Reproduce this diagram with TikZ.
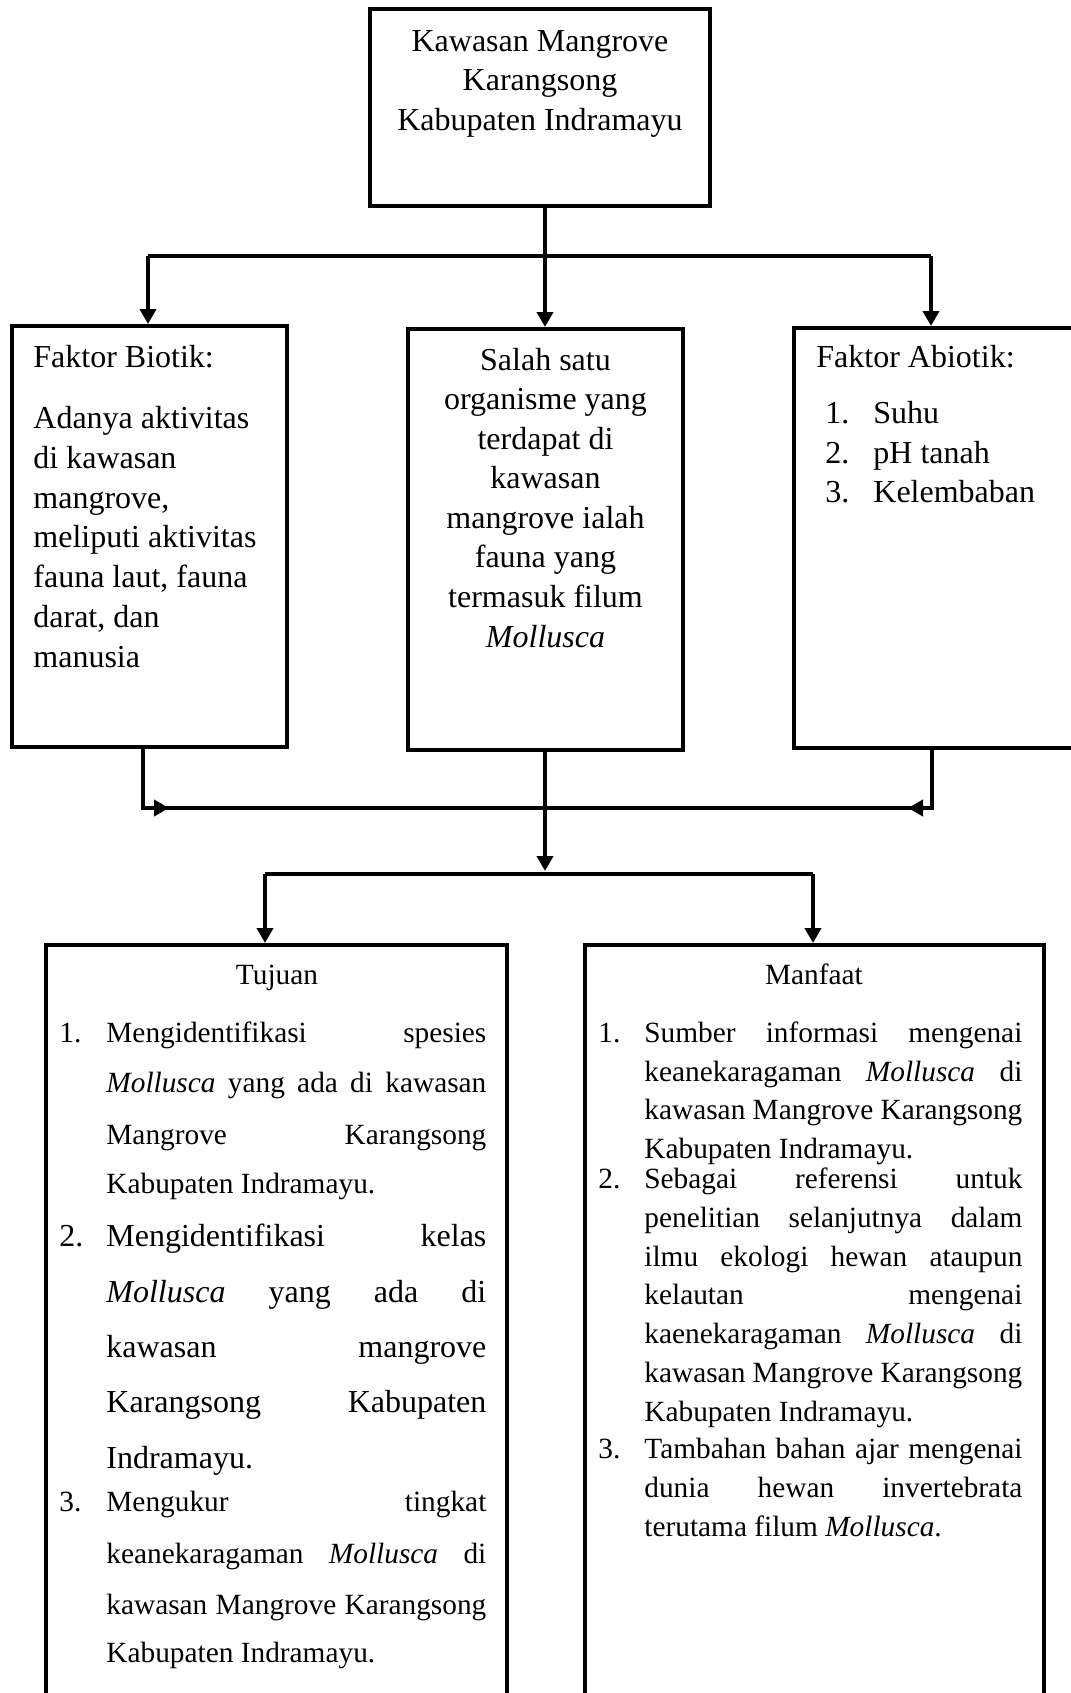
\documentclass[tikz,border=0pt]{standalone}
\usepackage{fontspec}
\setmainfont{Liberation Serif}
\usetikzlibrary{arrows.meta}
\newlength\jwl \setlength\jwl{190pt}
\newlength\jwr \setlength\jwr{189pt}
\newcommand\jl[1]{\makebox[\jwl][s]{#1}}
\newcommand\jr[1]{\makebox[\jwr][s]{#1}}
\newcommand\fbig{\fontsize{16}{19}\selectfont}
\newcommand\fsm{\fontsize{14.67}{17}\selectfont}
\begin{document}
\begin{tikzpicture}[x=0.5pt,y=-0.5pt,
  box/.style={draw, line width=2pt, inner sep=0},
  conn/.style={line width=2pt},
  arr/.style={line width=2pt, -{Triangle[length=7.5pt,width=8pt]}},
  tl/.style={inner sep=0, anchor=base west, font=\fbig},
  tc/.style={inner sep=0, anchor=base, font=\fbig},
  sl/.style={inner sep=0, anchor=base west, font=\fsm},
  sc/.style={inner sep=0, anchor=base, font=\fsm}]
\useasboundingbox (0,0) rectangle (1071,1693);
\clip (0,0) rectangle (1071,1693);
% boxes
\node[box, minimum width=170pt, minimum height=98.5pt] (top) at (540,107.5) {};
\node[box, minimum width=137.5pt, minimum height=210.5pt] (lb) at (149.5,536.5) {};
\node[box, minimum width=137.5pt, minimum height=210.5pt] (mid) at (545.5,539.5) {};
\node[box, minimum width=139.5pt, minimum height=210pt] (rb) at (933.5,538) {};
\node[box, minimum width=230.5pt, minimum height=387.5pt] (bl) at (276.5,1332.5) {};
\node[box, minimum width=229.5pt, minimum height=387.5pt] (br) at (814.5,1332.5) {};
% top text
\node[tc] (t1) at (540,51) {Kawasan Mangrove};
\node[tc] (t2) at (540,90) {Karangsong};
\node[tc] (t3) at (540,130) {Kabupaten Indramayu};
% left box text
\node[tl] (l0) at (33,367) {Faktor Biotik:};
\node[tl] (l1) at (33,428) {Adanya aktivitas};
\node[tl] (l2) at (33,468) {di kawasan};
\node[tl] (l3) at (33,508) {mangrove,};
\node[tl] (l4) at (33,547) {meliputi aktivitas};
\node[tl] (l5) at (33,587) {fauna laut, fauna};
\node[tl] (l6) at (33,627) {darat, dan};
\node[tl] (l7) at (33,667) {manusia};
% middle box text
\node[tc] (m1) at (545.5,370) {Salah satu};
\node[tc] (m2) at (545.5,409.6) {organisme yang};
\node[tc] (m3) at (545.5,449.1) {terdapat di};
\node[tc] (m4) at (545.5,488.7) {kawasan};
\node[tc] (m5) at (545.5,528.3) {mangrove ialah};
\node[tc] (m6) at (545.5,567.9) {fauna yang};
\node[tc] (m7) at (545.5,607.4) {termasuk filum};
\node[tc] (m8) at (545.5,647) {\textit{Mollusca}};
% right box text
\node[tl] (r0) at (816,367) {Faktor Abiotik:};
\node[tl] (r1n) at (825,423) {1.};
\node[tl] (r1) at (873,423) {Suhu};
\node[tl] (r2n) at (825,463) {2.};
\node[tl] (r2) at (873,463) {pH tanah};
\node[tl] (r3n) at (825,502) {3.};
\node[tl] (r3) at (873,502) {Kelembaban};
% Tujuan
\node[sc] (tj) at (277,984) {Tujuan};
\node[sl] (a1n) at (59,1042) {1.};
\node[sl] (a1a) at (106,1042) {\jl{Mengidentifikasi spesies}};
\node[sl] (a1b) at (106,1092) {\jl{\textit{Mollusca} yang ada di kawasan}};
\node[sl] (a1c) at (106,1144) {\jl{Mangrove Karangsong}};
\node[sl] (a1d) at (106,1193) {Kabupaten Indramayu.};
\node[tl] (a2n) at (59,1246) {2.};
\node[tl] (a2a) at (106,1246) {\jl{Mengidentifikasi kelas}};
\node[tl] (a2b) at (106,1302) {\jl{\textit{Mollusca} yang ada di}};
\node[tl] (a2c) at (106,1357) {\jl{kawasan mangrove}};
\node[tl] (a2d) at (106,1412) {\jl{Karangsong Kabupaten}};
\node[tl] (a2e) at (106,1468) {Indramayu.};
\node[sl] (a3n) at (59,1511) {3.};
\node[sl] (a3a) at (106,1511) {\jl{Mengukur tingkat}};
\node[sl] (a3b) at (106,1563) {\jl{keanekaragaman \textit{Mollusca} di}};
\node[sl] (a3c) at (106,1614) {\jl{kawasan Mangrove Karangsong}};
\node[sl] (a3d) at (106,1662) {Kabupaten Indramayu.};
% Manfaat
\node[sc] (mf) at (814,984) {Manfaat};
\node[sl] (b1n) at (598,1042) {1.};
\node[sl] (b1a) at (644,1042) {\jr{Sumber informasi mengenai}};
\node[sl] (b1b) at (644,1081) {\jr{keanekaragaman \textit{Mollusca} di}};
\node[sl] (b1c) at (644,1119) {\jr{kawasan Mangrove Karangsong}};
\node[sl] (b1d) at (644,1158) {Kabupaten Indramayu.};
\node[sl] (b2n) at (598,1188) {2.};
\node[sl] (b2a) at (644,1188) {\jr{Sebagai referensi untuk}};
\node[sl] (b2b) at (644,1227) {\jr{penelitian selanjutnya dalam}};
\node[sl] (b2c) at (644,1266) {\jr{ilmu ekologi hewan ataupun}};
\node[sl] (b2d) at (644,1304) {\jr{kelautan mengenai}};
\node[sl] (b2e) at (644,1343) {\jr{kaenekaragaman \textit{Mollusca} di}};
\node[sl] (b2f) at (644,1382) {\jr{kawasan Mangrove Karangsong}};
\node[sl] (b2g) at (644,1421) {Kabupaten Indramayu.};
\node[sl] (b3n) at (598,1458) {3.};
\node[sl] (b3a) at (644,1458) {\jr{Tambahan bahan ajar mengenai}};
\node[sl] (b3b) at (644,1497) {\jr{dunia hewan invertebrata}};
\node[sl] (b3c) at (644,1536) {terutama filum \textit{Mollusca}.};
% connectors: top split
\coordinate (j1) at (545,256);
\coordinate (j1l) at (148,256);
\coordinate (j1r) at (931,256);
\draw[conn] (top.south -| j1) -- (j1);
\draw[conn] (j1l) -- (j1r);
\draw[arr] (j1) -- (mid.north -| j1);
\draw[arr] (j1l) -- (lb.north -| j1l);
\draw[arr] (j1r) -- (rb.north -| j1r);
% merge
\coordinate (k1l) at (143,808);
\coordinate (k1r) at (932,808);
\coordinate (k1lt) at (169,808);
\coordinate (k1rt) at (908,808);
\draw[conn] (k1l) -- (k1r);
\draw[arr] (lb.south -| k1l) -- (k1l) -- (k1lt);
\draw[arr] (rb.south -| k1r) -- (k1r) -- (k1rt);
% down to bottom split
\coordinate (k2t) at (545,871);
\coordinate (k2l) at (265,874);
\coordinate (k2r) at (813,874);
\draw[arr] (mid.south -| k2t) -- (k2t);
\draw[conn] (k2l) -- (k2r);
\draw[arr] (k2l) -- (bl.north -| k2l);
\draw[arr] (k2r) -- (br.north -| k2r);
\end{tikzpicture}
\end{document}
